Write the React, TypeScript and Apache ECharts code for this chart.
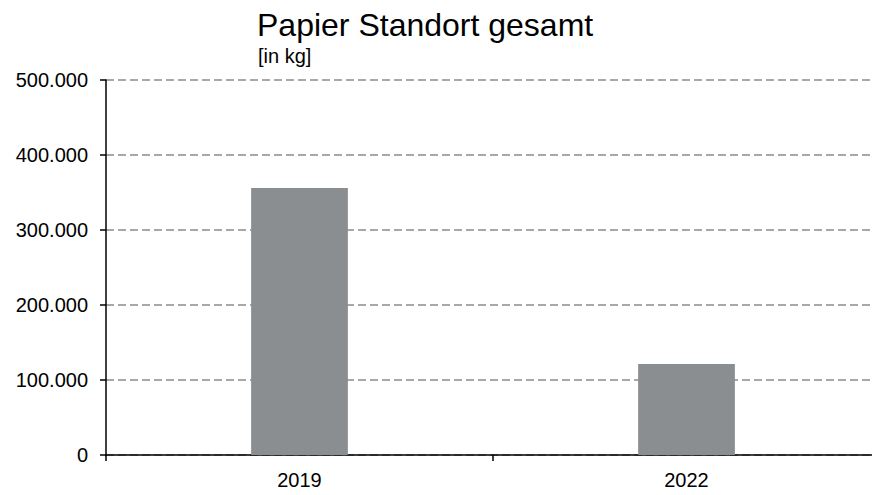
import React, { useEffect, useRef } from "react";
import * as echarts from "echarts";

const categories = ["2019", "2022"];
const values = [356000, 121500];
const yTicks = [0, 100000, 200000, 300000, 400000, 500000];

const FONT = "Liberation Sans, Arial, sans-serif";

function fmt(v: number): string {
  return String(Math.round(v)).replace(/\B(?=(\d{3})+(?!\d))/g, ".");
}

export default function App() {
  const ref = useRef<HTMLDivElement>(null);
  useEffect(() => {
    const chart = echarts.init(ref.current!, undefined, { renderer: "svg" });
    chart.setOption({
      animation: false,
      backgroundColor: "#ffffff",
      textStyle: { fontFamily: FONT },
      graphic: [
        {
          type: "text",
          left: 257,
          top: 9,
          style: { text: "Papier Standort gesamt", fontSize: 32, fill: "#000", fontFamily: FONT },
        },
        {
          type: "text",
          left: 258,
          top: 46,
          style: { text: "[in kg]", fontSize: 20, fill: "#000", fontFamily: FONT },
        },
      ],
      grid: { left: 106, top: 80, width: 774, height: 375, containLabel: false, outerBoundsMode: "none" },
      xAxis: {
        type: "category",
        data: categories,
        axisLine: { lineStyle: { color: "#000", width: 1.5 } },
        axisTick: { show: true, alignWithLabel: false, length: 6, lineStyle: { color: "#000", width: 1.5 } },
        axisLabel: { color: "#000", fontSize: 20, margin: 15, fontFamily: FONT },
      },
      yAxis: {
        type: "value",
        min: yTicks[0],
        max: yTicks[yTicks.length - 1],
        interval: 100000,
        axisLine: { show: true, lineStyle: { color: "#000", width: 1.5 } },
        axisTick: { show: true, length: 6, lineStyle: { color: "#000", width: 1.5 } },
        axisLabel: { color: "#000", fontSize: 20, margin: 18, formatter: (v: number) => fmt(v), fontFamily: FONT },
        splitLine: { show: true, lineStyle: { color: "#8c8c8c", type: [8, 4], width: 1.5 } },
      },
      series: [
        {
          type: "bar",
          data: values,
          barWidth: "25%",
          itemStyle: { color: "#8a8e91" },
        },
      ],
    });
    return () => chart.dispose();
  }, []);
  return <div ref={ref} style={{ position: "absolute", left: 0, top: 0, width: 872, height: 495 }} />;
}
